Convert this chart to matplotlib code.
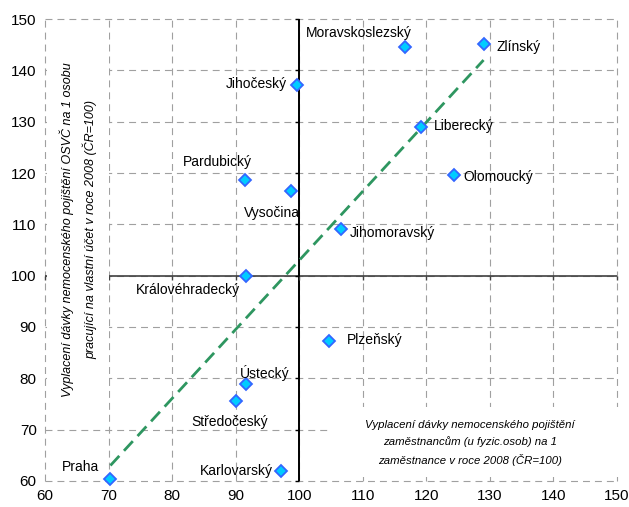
import matplotlib
matplotlib.use("Agg")
import matplotlib.pyplot as plt
import numpy as np
from matplotlib.lines import TICKDOWN, TICKLEFT
from matplotlib.patches import Rectangle

plt.rcParams["font.family"] = ["Liberation Sans", "DejaVu Sans"]
plt.rcParams["lines.scale_dashes"] = False

# regions: x = employees (ČR=100), y = self-employed (ČR=100)
regions = ["Jihočeský", "Pardubický", "Vysočina", "Moravskoslezský", "Zlínský",
           "Liberecký", "Olomoucký", "Jihomoravský", "Královéhradecký", "Ústecký",
           "Středočeský", "Praha", "Karlovarský", "Plzeňský"]
x_empl = [99.6, 91.4, 98.7, 116.7, 129.0, 119.1, 124.3, 106.6, 91.7, 91.6,
          90.0, 70.3, 97.1, 104.7]
y_osvc = [137.1, 118.6, 116.5, 144.5, 145.1, 128.9, 119.6, 109.1, 100.0, 78.9,
          75.5, 60.3, 61.9, 87.2]

# label offsets in pixels from the marker, and horizontal alignment
label_dx = [-10, -27, -19, -47, 13, 13, 10, 9, -6, 19, -6, -11, -8, 18]
label_dy = [1, 18, -22, 14, -3, 1, -2, -4, -14, 11, -21, 12, 0, 1]
label_ha = ["right", "center", "center", "center", "left", "left", "left", "left",
            "right", "center", "center", "right", "right", "left"]

ticks = [60, 70, 80, 90, 100, 110, 120, 130, 140, 150]

fig = plt.figure(figsize=(6.29, 5.07), dpi=100)
ax = fig.add_axes([0.0715, 0.0513, 0.9095, 0.9112])
ax.set_xlim(60, 150)
ax.set_ylim(60, 150)
ax.set_xticks(ticks)
ax.set_yticks(ticks)
ax.tick_params(length=0, labelsize=11, pad=6, colors="black")
for s in ax.spines.values():
    s.set_visible(False)
ax.set_axisbelow(True)
ax.grid(True, color="#A0A0A0", linewidth=0.8, linestyle=(0, (5, 3.6)))
for gl in ax.get_xgridlines() + ax.get_ygridlines():
    gl.set_clip_on(False)

# crossing axes at 100
ax.axhline(100, color="#404040", linewidth=1.2, zorder=0.8)
ax.axvline(100, color="black", linewidth=1.4, zorder=0.8)
ax.plot(ticks, [100] * len(ticks), linestyle="none", marker=TICKDOWN,
        markersize=3, color="#404040", clip_on=False, zorder=0.8)
ax.plot([100] * len(ticks), ticks, linestyle="none", marker=TICKLEFT,
        markersize=3, color="black", clip_on=False, zorder=0.8)

# white boxes behind axis titles
ax.add_patch(Rectangle((0.004, 0.115), 0.108, 0.868, transform=ax.transAxes,
                       facecolor="white", edgecolor="none", zorder=1))
ax.add_patch(Rectangle((0.495, 0.009), 0.51, 0.151, transform=ax.transAxes,
                       facecolor="white", edgecolor="none", zorder=1,
                       clip_on=False))

# linear trend
k, q = np.polyfit(x_empl, y_osvc, 1)
xs = np.array([min(x_empl), max(x_empl)])
ax.plot(xs, k * xs + q, color="#2E9660", linewidth=2.0,
        linestyle=(0, (9.4, 5)), zorder=2)

ax.plot(x_empl, y_osvc, linestyle="none", marker="D", markersize=6.5,
        markerfacecolor="#00CCFF", markeredgecolor="#3366FF",
        markeredgewidth=1.3, zorder=3, clip_on=False)

for name, x, y, dx, dy, ha in zip(regions, x_empl, y_osvc, label_dx, label_dy, label_ha):
    ax.annotate(name, (x, y), xytext=(dx, dy), textcoords="offset pixels",
                ha=ha, va="center", fontsize=10, zorder=4)

ax.text(0.058, 0.545,
        "Vyplacení dávky nemocenského pojištění OSVČ na 1 osobu\n"
        "pracující na vlastní účet v roce 2008 (ČR=100)",
        transform=ax.transAxes, rotation=90, ha="center", va="center",
        fontsize=9, style="italic", linespacing=1.75, zorder=4)
ax.text(0.743, 0.082,
        "Vyplacení dávky nemocenského pojištění\n"
        "zaměstnancům (u fyzic.osob) na 1\n"
        "zaměstnance v roce 2008 (ČR=100)",
        transform=ax.transAxes, ha="center", va="center",
        fontsize=8.2, style="italic", linespacing=1.7, zorder=4)

fig.savefig("out.png", dpi=100)
